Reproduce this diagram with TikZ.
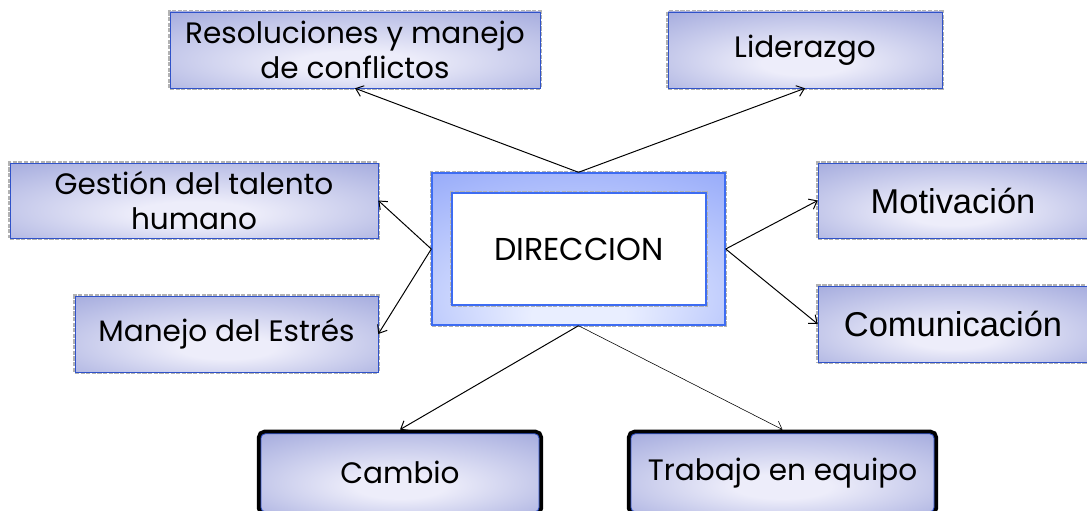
\documentclass[tikz,border=0pt]{standalone}
\usepackage{fontspec}
\setmainfont{Poppins}
\newfontfamily\arialfont{Liberation Sans}
\usetikzlibrary{arrows.meta}

\definecolor{boxdark}{HTML}{98A0D9}
\definecolor{boxlight}{HTML}{EDEDFA}
\definecolor{boxline}{HTML}{2F52C9}
\definecolor{dirdark}{HTML}{8CA2F9}
\definecolor{dirlight}{HTML}{E9EEFF}
\definecolor{dirline}{HTML}{3D6CF2}
\pgfdeclareradialshading{boxshade}{\pgfpoint{0bp}{-10bp}}{color(0bp)=(boxlight); color(8bp)=(boxlight); color(44bp)=(boxdark); color(60bp)=(boxdark)}
\pgfdeclareradialshading{dirshade}{\pgfpoint{0bp}{-25bp}}{color(0bp)=(dirlight); color(8bp)=(dirlight); color(48bp)=(dirdark); color(70bp)=(dirdark)}

\begin{document}
\begin{tikzpicture}[
  plain/.style={shade, shading=boxshade, align=center, font=\fontsize{21}{25}\selectfont},
  topic/.style={plain, draw=boxline, thin, preaction={draw=gray!60, densely dotted, line width=3pt}},
  lowtopic/.style={plain, draw=boxline, line width=0.6pt, rounded corners=3pt, outer sep=3pt, preaction={draw=black, line width=6pt}},
  link/.style={-{Straight Barb[length=5pt,width=8pt]}, black, line width=0.7pt}
]
\useasboundingbox (0,0) rectangle (27.175,12.75);
\clip (0,0) rectangle (27.175,12.75);

% centre
\node[shade, shading=dirshade, draw=dirline, line width=1pt, preaction={draw=gray!60, densely dotted, line width=3pt}, minimum width=7.325cm, minimum height=3.8cm] (dir) at (14.4625,6.525) {};
\node[fill=white, draw=dirline, line width=0.8pt, preaction={draw=gray!60, densely dotted, line width=3pt}, minimum width=6.35cm, minimum height=2.8cm, font=\fontsize{22.5}{25}\selectfont] (dirtext) at (14.475,6.525) {DIRECCION};

% top
\node[topic, minimum width=9.25cm, minimum height=1.9cm] (res) at (8.875,11.5) {Resoluciones y manejo\\de conflictos};
\node[topic, minimum width=6.85cm, minimum height=1.9cm] (lid) at (20.125,11.5) {Liderazgo};

% left
\node[topic, minimum width=9.2cm, minimum height=1.875cm] (ges) at (4.85,7.7375) {Gestión del talento\\humano};
\node[topic, minimum width=7.575cm, minimum height=1.9cm] (est) at (5.6625,4.4) {Manejo del Estrés};

% right
\node[topic, minimum width=6.75cm, minimum height=1.875cm, font=\arialfont\fontsize{24.5}{28}\selectfont] (mot) at (23.825,7.7375) {Motivación};
\node[topic, minimum width=6.75cm, minimum height=1.9cm, font=\arialfont\fontsize{24.5}{28}\selectfont] (com) at (23.825,4.65) {Comunicación};

% bottom
\node[lowtopic, minimum width=6.95cm, minimum height=1.95cm] (cam) at (10.0,0.93) {Cambio};
\node[lowtopic, minimum width=7.575cm, minimum height=1.95cm] (tra) at (19.5625,0.93) {Trabajo en equipo};

\path[link] (dir.north) edge (res.south);
\path[link] (dir.north) edge (lid.south);
\path[link] (dir.west) edge (ges.east);
\path[link] (dir.west) edge (est.east);
\path[link] (dir.east) edge (mot.west);
\path[link] (dir.east) edge (com.west);
\path[link] (dir.south) edge (cam.north);
\path[link, line width=0.4pt] (dir.south) edge (tra.north);
\end{tikzpicture}
\end{document}
